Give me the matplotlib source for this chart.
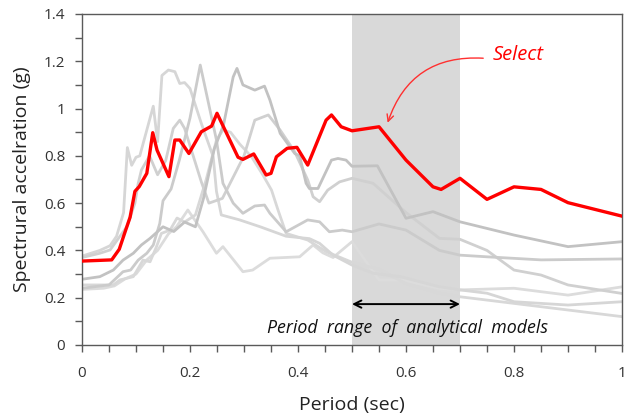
import matplotlib
matplotlib.use("Agg")
import matplotlib.pyplot as plt
from matplotlib.ticker import MultipleLocator, FuncFormatter

plt.rcParams['font.family'] = ['Open Sans', 'DejaVu Sans']

# ---- data (period in sec, spectral acceleration in g) ----
t_red = [0.0, 0.055, 0.069, 0.080, 0.089, 0.098, 0.106, 0.120, 0.131, 0.139, 0.161, 0.172,
         0.181, 0.198, 0.221, 0.240, 0.250, 0.289, 0.298, 0.318, 0.341, 0.350, 0.360, 0.380,
         0.398, 0.418, 0.452, 0.462, 0.480, 0.500, 0.550, 0.600, 0.650, 0.665, 0.700, 0.750,
         0.800, 0.850, 0.900, 1.000]
sa_red = [0.355, 0.360, 0.405, 0.480, 0.540, 0.650, 0.670, 0.726, 0.898, 0.824, 0.712, 0.867,
          0.867, 0.810, 0.902, 0.926, 0.980, 0.794, 0.785, 0.808, 0.719, 0.726, 0.796, 0.832,
          0.836, 0.761, 0.951, 0.973, 0.923, 0.906, 0.923, 0.782, 0.669, 0.658, 0.705, 0.616,
          0.669, 0.658, 0.602, 0.545]

t_a = [0, 0.033, 0.052, 0.064, 0.077, 0.084, 0.092, 0.100, 0.107, 0.132, 0.140, 0.148, 0.160,
       0.172, 0.181, 0.190, 0.200, 0.221, 0.243, 0.249, 0.258, 0.292, 0.330, 0.378, 0.421,
       0.440, 0.465, 0.500, 0.540, 0.590, 0.660, 0.700, 0.750, 0.800, 0.900, 1.000]
sa_a = [0.376, 0.40, 0.42, 0.46, 0.56, 0.835, 0.76, 0.794, 0.80, 1.01, 0.86, 1.14, 1.163,
        1.156, 1.106, 1.11, 1.085, 0.937, 0.796, 0.65, 0.55, 0.529, 0.50, 0.46, 0.45,
        0.43, 0.38, 0.338, 0.303, 0.289, 0.247, 0.233, 0.219, 0.183, 0.169, 0.183]

t_b = [0, 0.05, 0.076, 0.09, 0.104, 0.12, 0.132, 0.144, 0.150, 0.165, 0.180, 0.200, 0.219,
       0.233, 0.249, 0.261, 0.280, 0.298, 0.320, 0.338, 0.348, 0.378, 0.418, 0.440, 0.458,
       0.482, 0.500, 0.550, 0.600, 0.662, 0.700, 0.750, 0.850, 1.000]
sa_b = [0.24, 0.254, 0.31, 0.317, 0.359, 0.388, 0.423, 0.514, 0.61, 0.66, 0.78, 0.96, 1.184,
        1.036, 0.867, 0.684, 0.60, 0.557, 0.588, 0.592, 0.557, 0.479, 0.529, 0.521, 0.479,
        0.486, 0.479, 0.512, 0.486, 0.40, 0.38, 0.373, 0.36, 0.364]

t_c = [0, 0.033, 0.058, 0.076, 0.095, 0.110, 0.126, 0.150, 0.170, 0.190, 0.210, 0.225, 0.245,
       0.262, 0.280, 0.287, 0.298, 0.320, 0.338, 0.348, 0.367, 0.394, 0.403, 0.415, 0.421,
       0.437, 0.462, 0.474, 0.489, 0.500, 0.547, 0.600, 0.650, 0.700, 0.750, 0.800, 0.900, 1.000]
sa_c = [0.278, 0.289, 0.317, 0.359, 0.388, 0.423, 0.451, 0.50, 0.48, 0.52, 0.50, 0.62, 0.83,
        0.93, 1.134, 1.17, 1.10, 1.078, 1.095, 1.036, 0.895, 0.81, 0.80, 0.684, 0.662,
        0.662, 0.782, 0.789, 0.782, 0.756, 0.758, 0.536, 0.564, 0.521, 0.493, 0.465, 0.416, 0.437]

t_d = [0, 0.033, 0.052, 0.064, 0.083, 0.098, 0.104, 0.110, 0.125, 0.140, 0.155, 0.169, 0.181,
       0.190, 0.221, 0.235, 0.260, 0.300, 0.320, 0.345, 0.367, 0.394, 0.418, 0.428, 0.440,
       0.455, 0.477, 0.500, 0.539, 0.600, 0.662, 0.700, 0.750, 0.800, 0.850, 0.900, 1.000]
sa_d = [0.37, 0.388, 0.402, 0.44, 0.50, 0.60, 0.683, 0.74, 0.80, 0.72, 0.78, 0.916, 0.951,
        0.916, 0.69, 0.60, 0.62, 0.80, 0.951, 0.973, 0.909, 0.817, 0.698, 0.627, 0.606,
        0.655, 0.69, 0.705, 0.684, 0.56, 0.451, 0.447, 0.40, 0.317, 0.296, 0.254, 0.218]

t_e = [0, 0.058, 0.070, 0.095, 0.113, 0.126, 0.138, 0.147, 0.163, 0.176, 0.190, 0.210, 0.230,
       0.249, 0.261, 0.275, 0.292, 0.314, 0.335, 0.351, 0.363, 0.378, 0.418, 0.452, 0.500,
       0.550, 0.600, 0.660, 0.700, 0.800, 0.900, 1.000]
sa_e = [0.254, 0.254, 0.275, 0.289, 0.359, 0.352, 0.416, 0.472, 0.486, 0.537, 0.52, 0.55, 0.70,
        0.867, 0.909, 0.90, 0.85, 0.796, 0.719, 0.655, 0.571, 0.472, 0.444, 0.395, 0.35,
        0.32, 0.26, 0.22, 0.204, 0.176, 0.148, 0.12]

t_x = [0, 0.04, 0.06, 0.08, 0.10, 0.12, 0.14, 0.16, 0.175, 0.196, 0.224, 0.249, 0.261, 0.298,
       0.316, 0.348, 0.403, 0.428, 0.446, 0.465, 0.500, 0.550, 0.593, 0.660, 0.700, 0.800,
       0.900, 1.000]
sa_x = [0.235, 0.24, 0.25, 0.28, 0.30, 0.36, 0.40, 0.47, 0.50, 0.571, 0.479, 0.388, 0.416, 0.31,
        0.317, 0.367, 0.373, 0.423, 0.39, 0.37, 0.437, 0.275, 0.275, 0.24, 0.233, 0.24,
        0.211, 0.246]

gray_series = [(t_x, sa_x, '#dcdcdc'), (t_e, sa_e, '#d8d8d8'), (t_a, sa_a, '#d6d6d6'),
               (t_d, sa_d, '#d0d0d0'), (t_b, sa_b, '#cbcbcb'), (t_c, sa_c, '#c2c2c2')]

range_lo, range_hi = 0.5, 0.7

fig = plt.figure(figsize=(6.25, 4.18), dpi=100)
ax = fig.add_axes([82/625, 1-345/418, (622-82)/625, (345-14)/418])

ax.axvspan(range_lo, range_hi, color='#d9d9d9', zorder=0, lw=0)

for tt, ss, col in gray_series:
    ax.plot(tt, ss, color=col, lw=2.0, zorder=2, solid_joinstyle='round')
ax.plot(t_red, sa_red, color='#ff0000', lw=2.4, zorder=3, solid_joinstyle='round')

ax.set_xlim(0, 1)
ax.set_ylim(0, 1.4)
ax.xaxis.set_major_locator(MultipleLocator(0.2))
ax.xaxis.set_minor_locator(MultipleLocator(0.05))
ax.yaxis.set_major_locator(MultipleLocator(0.2))
ax.yaxis.set_minor_locator(MultipleLocator(0.1))

fmt = FuncFormatter(lambda v, p: ('%g' % round(v, 2)))
ax.xaxis.set_major_formatter(fmt)
ax.yaxis.set_major_formatter(fmt)

spine_col = '#5a5a5a'
for s in ax.spines.values():
    s.set_color(spine_col)
    s.set_linewidth(1.0)
ax.tick_params(which='both', direction='out', color=spine_col, width=1.0)
ax.tick_params(which='major', length=5, labelsize=11, labelcolor='#333333')
ax.tick_params(axis='x', which='major', pad=10)
ax.tick_params(axis='y', which='major', pad=7)
ax.tick_params(which='minor', length=5)

ax.set_xlabel('Period (sec)', fontsize=14, color='#222222', labelpad=11)
ax.set_ylabel('Spectrural accelration (g)', fontsize=14, color='#222222', labelpad=9)

# double-headed arrow for period range
ax.annotate('', xy=(range_lo, 0.173), xytext=(range_hi, 0.173),
            arrowprops=dict(arrowstyle='<->', color='black', lw=1.4,
                            shrinkA=0, shrinkB=0, mutation_scale=13), zorder=5)
ax.text(0.602, 0.074, 'Period  range  of  analytical  models', fontsize=12.8,
        style='italic', ha='center', va='center', color='#111111', zorder=5)

# Select annotation
ax.text(0.76, 1.226, 'Select', fontsize=14.5, style='italic', color='#ff0000',
        ha='left', va='center', zorder=5)
ax.annotate('', xy=(0.566, 0.94), xytext=(0.743, 1.213),
            arrowprops=dict(arrowstyle='->', color='#ff3030', lw=1.0,
                            connectionstyle='arc3,rad=0.38', shrinkA=0, shrinkB=0,
                            mutation_scale=12), zorder=5)

fig.savefig('out.png', dpi=100)
